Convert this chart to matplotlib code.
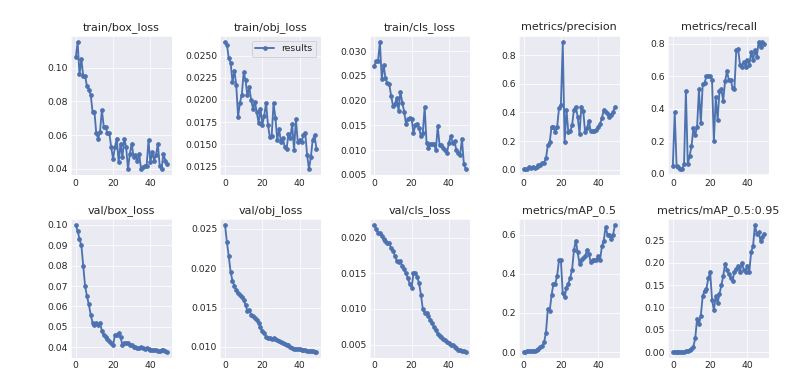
import matplotlib
matplotlib.use('Agg')
import matplotlib.pyplot as plt
import seaborn as sns
import numpy as np

epochs = np.arange(50)

train_box_loss = [0.106, 0.115, 0.096, 0.105, 0.095, 0.095, 0.089, 0.087, 0.084, 0.074,
                  0.074, 0.061, 0.058, 0.062, 0.075, 0.065, 0.065, 0.061, 0.061, 0.053,
                  0.046, 0.053, 0.058, 0.044, 0.055, 0.047, 0.058, 0.053, 0.040, 0.049,
                  0.055, 0.047, 0.048, 0.045, 0.049, 0.040, 0.041, 0.042, 0.042, 0.057,
                  0.044, 0.050, 0.045, 0.048, 0.055, 0.042, 0.040, 0.049, 0.045, 0.043]
train_obj_loss = [0.0265, 0.0262, 0.0247, 0.0242, 0.0220, 0.0233, 0.0217, 0.0181, 0.0197, 0.0206,
                  0.0231, 0.0222, 0.0205, 0.0214, 0.0200, 0.0190, 0.0198, 0.0186, 0.0174, 0.0190,
                  0.0172, 0.0182, 0.0197, 0.0172, 0.0158, 0.0159, 0.0196, 0.0180, 0.0155, 0.0167,
                  0.0152, 0.0157, 0.0147, 0.0144, 0.0162, 0.0157, 0.0173, 0.0143, 0.0178, 0.0152,
                  0.0155, 0.0152, 0.0160, 0.0163, 0.0138, 0.0122, 0.0135, 0.0155, 0.0160, 0.0145]
train_cls_loss = [0.0270, 0.0280, 0.0280, 0.0318, 0.0244, 0.0272, 0.0245, 0.0235, 0.0234, 0.0210,
                  0.0190, 0.0193, 0.0205, 0.0180, 0.0218, 0.0196, 0.0178, 0.0153, 0.0163, 0.0165,
                  0.0163, 0.0135, 0.0150, 0.0152, 0.0145, 0.0128, 0.0135, 0.0187, 0.0115, 0.0105,
                  0.0113, 0.0112, 0.0113, 0.0100, 0.0148, 0.0110, 0.0110, 0.0105, 0.0100, 0.0095,
                  0.0115, 0.0128, 0.0115, 0.0118, 0.0100, 0.0095, 0.0090, 0.0123, 0.0073, 0.0062]
precision = [0.005, 0.005, 0.005, 0.020, 0.015, 0.018, 0.010, 0.020, 0.030, 0.035,
             0.045, 0.050, 0.080, 0.170, 0.190, 0.300, 0.300, 0.260, 0.300, 0.430,
             0.450, 0.890, 0.190, 0.420, 0.260, 0.270, 0.310, 0.420, 0.440, 0.370,
             0.250, 0.440, 0.410, 0.260, 0.290, 0.340, 0.270, 0.270, 0.270, 0.280,
             0.300, 0.320, 0.360, 0.420, 0.400, 0.390, 0.370, 0.380, 0.400, 0.440]
recall = [0.05, 0.38, 0.05, 0.04, 0.03, 0.03, 0.06, 0.51, 0.06, 0.11,
          0.17, 0.28, 0.24, 0.29, 0.52, 0.31, 0.55, 0.56, 0.60, 0.60,
          0.60, 0.58, 0.20, 0.47, 0.33, 0.51, 0.52, 0.45, 0.57, 0.63,
          0.58, 0.58, 0.53, 0.52, 0.76, 0.77, 0.67, 0.66, 0.69, 0.66,
          0.70, 0.67, 0.75, 0.70, 0.76, 0.72, 0.81, 0.78, 0.81, 0.80]
val_box_loss = [0.1000, 0.0970, 0.0930, 0.0900, 0.0800, 0.0700, 0.0650, 0.0610, 0.0560, 0.0520,
                0.0510, 0.0520, 0.0510, 0.0520, 0.0480, 0.0460, 0.0450, 0.0440, 0.0430, 0.0420,
                0.0410, 0.0460, 0.0460, 0.0470, 0.0450, 0.0410, 0.0420, 0.0420, 0.0420, 0.0410,
                0.0410, 0.0400, 0.0400, 0.0395, 0.0395, 0.0400, 0.0395, 0.0390, 0.0395, 0.0390,
                0.0385, 0.0385, 0.0385, 0.0385, 0.0380, 0.0380, 0.0385, 0.0385, 0.0380, 0.0378]
val_obj_loss = [0.0255, 0.0233, 0.0215, 0.0195, 0.0184, 0.0178, 0.0172, 0.0168, 0.0166, 0.0163,
                0.0160, 0.0153, 0.0146, 0.0147, 0.0141, 0.0139, 0.0137, 0.0134, 0.0130, 0.0125,
                0.0120, 0.0118, 0.0113, 0.0111, 0.0111, 0.0110, 0.0111, 0.0110, 0.0109, 0.0108,
                0.0106, 0.0105, 0.0104, 0.0103, 0.0102, 0.0100, 0.0099, 0.0098, 0.0098, 0.0097,
                0.0097, 0.0096, 0.0096, 0.0096, 0.0095, 0.0095, 0.0095, 0.0095, 0.0094, 0.0094]
val_cls_loss = [0.0218, 0.0212, 0.0207, 0.0206, 0.0202, 0.0198, 0.0196, 0.0192, 0.0193, 0.0185,
                0.0182, 0.0175, 0.0168, 0.0166, 0.0167, 0.0160, 0.0156, 0.0150, 0.0143, 0.0135,
                0.0130, 0.0150, 0.0151, 0.0145, 0.0136, 0.0120, 0.0100, 0.0095, 0.0094, 0.0090,
                0.0085, 0.0080, 0.0075, 0.0070, 0.0065, 0.0062, 0.0060, 0.0058, 0.0056, 0.0054,
                0.0052, 0.0050, 0.0049, 0.0047, 0.0045, 0.0043, 0.0042, 0.0041, 0.0041, 0.0040]
map50 = [0.002, 0.002, 0.003, 0.004, 0.005, 0.008, 0.008, 0.010, 0.018, 0.025,
         0.030, 0.050, 0.100, 0.220, 0.210, 0.290, 0.350, 0.350, 0.390, 0.470,
         0.470, 0.300, 0.280, 0.330, 0.350, 0.380, 0.420, 0.520, 0.570, 0.510,
         0.450, 0.470, 0.480, 0.490, 0.520, 0.500, 0.460, 0.470, 0.470, 0.470,
         0.490, 0.470, 0.540, 0.570, 0.640, 0.600, 0.600, 0.580, 0.600, 0.650]
map50_95 = [0.001, 0.001, 0.001, 0.001, 0.001, 0.001, 0.001, 0.002, 0.002, 0.005,
            0.008, 0.012, 0.031, 0.075, 0.062, 0.082, 0.125, 0.138, 0.142, 0.165,
            0.180, 0.117, 0.094, 0.125, 0.110, 0.130, 0.150, 0.170, 0.198, 0.185,
            0.175, 0.165, 0.160, 0.180, 0.186, 0.192, 0.180, 0.200, 0.185, 0.180,
            0.192, 0.180, 0.225, 0.237, 0.285, 0.265, 0.268, 0.250, 0.258, 0.265]

titles = ['train/box_loss', 'train/obj_loss', 'train/cls_loss', 'metrics/precision', 'metrics/recall',
          'val/box_loss', 'val/obj_loss', 'val/cls_loss', 'metrics/mAP_0.5', 'metrics/mAP_0.5:0.95']
series = [train_box_loss, train_obj_loss, train_cls_loss, precision, recall,
          val_box_loss, val_obj_loss, val_cls_loss, map50, map50_95]

sns.set_style('darkgrid')
plt.rcParams['font.family'] = ['DejaVu Sans']

fig, ax = plt.subplots(2, 5, figsize=(12, 5.85), dpi=800 / 12)
fig.subplots_adjust(left=0.089, right=0.961, top=0.908, bottom=0.082, wspace=0.485, hspace=0.31)
ax = ax.ravel()
for i, (y, t) in enumerate(zip(series, titles)):
    ax[i].plot(epochs, y, marker='.', label='results', linewidth=2, markersize=8, color='#4C72B0')
    ax[i].set_title(t, fontsize=12, color='#262626')
    ax[i].tick_params(labelsize=10, colors='#262626', length=0)
ax[1].legend(loc='upper right', fontsize=10)

fig.savefig('out.png', dpi=800 / 12)
